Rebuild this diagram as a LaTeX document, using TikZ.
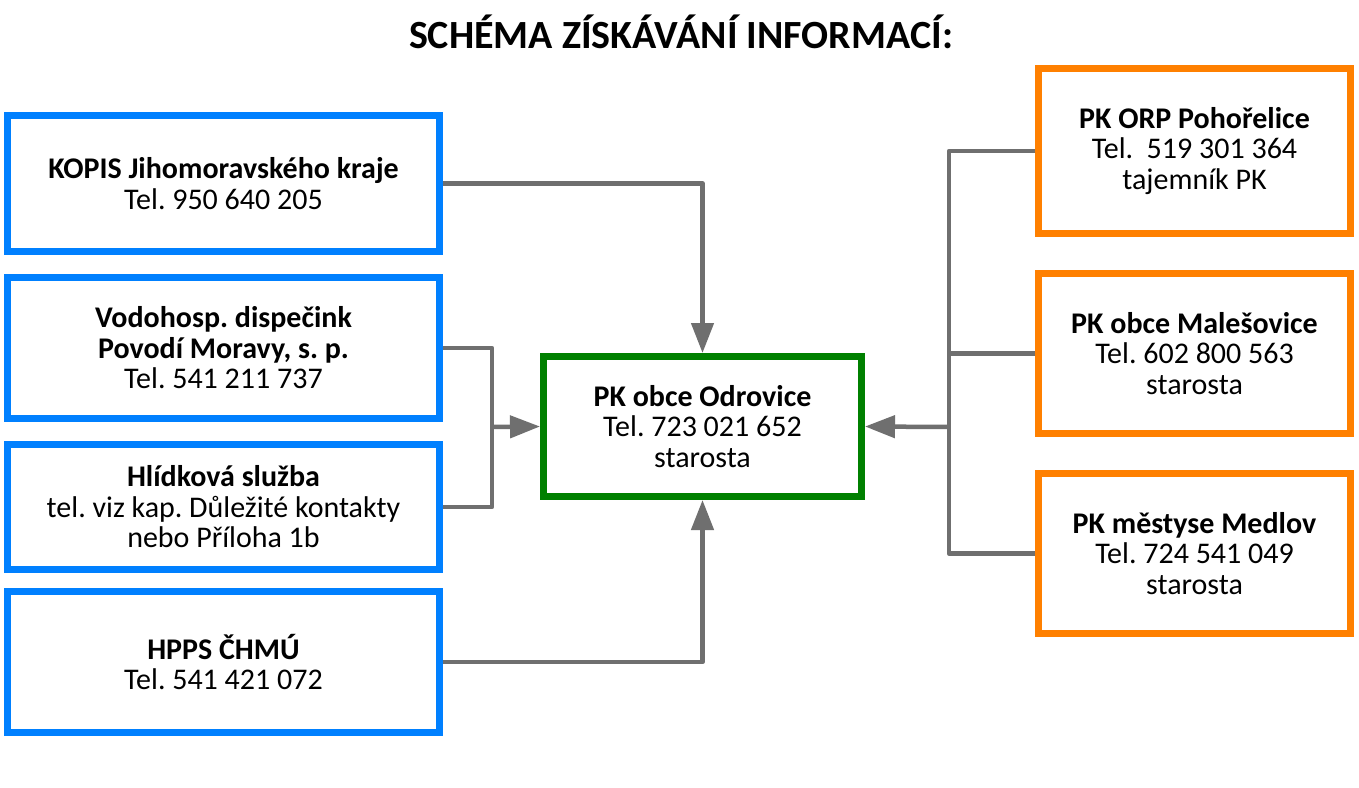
\documentclass[tikz,border=0pt]{standalone}
\usepackage{fontspec}
\setmainfont{Carlito}
\usetikzlibrary{arrows.meta}
\definecolor{cblue}{RGB}{0,128,255}
\definecolor{cgreen}{RGB}{0,128,0}
\definecolor{corange}{RGB}{255,128,0}
\definecolor{cgray}{RGB}{111,111,111}
\frenchspacing
\begin{document}
\begin{tikzpicture}[x=1pt,y=-1pt,
  box/.style={draw, line width=7pt, fill=white, align=center, inner sep=0pt,
    font=\fontsize{30}{30.5}\selectfont},
  bluebox/.style={box, draw=cblue, minimum width=432pt},
  orangebox/.style={box, draw=corange, minimum width=312pt},
  greenbox/.style={box, draw=cgreen, minimum width=318pt, minimum height=140pt},
  conn/.style={draw=cgray, line width=4.5pt, line join=round},
  arr/.style={conn, -{Triangle[length=30pt,width=22pt]}}]
\useasboundingbox (0,0) rectangle (1359,787);
\fill[white] (0,0) rectangle (1359,787);
\node[anchor=base, font=\fontsize{40}{42}\selectfont\bfseries] (title) at (681,48) {SCHÉMA ZÍSKÁVÁNÍ INFORMACÍ:};
\node[bluebox, minimum height=136pt] (kopis) at (223.5,183.5) {\textbf{KOPIS Jihomoravského kraje}\\Tel. 950 640 205};
\node[bluebox, minimum height=141pt] (vodo) at (223.5,348) {\textbf{Vodohosp. dispečink}\\\textbf{Povodí Moravy, s. p.}\\Tel. 541 211 737};
\node[bluebox, minimum height=125pt] (hlid) at (223.5,507) {\textbf{Hlídková služba}\\tel. viz kap. Důležité kontakty\\nebo Příloha 1b};
\node[bluebox, minimum height=141pt] (hpps) at (223.5,662) {\textbf{HPPS ČHMÚ}\\Tel. 541 421 072};
\node[greenbox] (green) at (702.5,426.5) {\textbf{PK obce Odrovice}\\Tel. 723 021 652\\starosta};
\node[orangebox, minimum height=165pt] (orp) at (1194.5,151) {\textbf{PK ORP Pohořelice}\\Tel.\ \ 519 301 364\\tajemník PK};
\node[orangebox, minimum height=160pt] (male) at (1194.5,353.5) {\textbf{PK obce Malešovice}\\Tel. 602 800 563\\starosta};
\node[orangebox, minimum height=160pt] (medl) at (1194.5,553.5) {\textbf{PK městyse Medlov}\\Tel. 724 541 049\\starosta};
\coordinate (jL) at (492,427);
\coordinate (jR) at (949,427);
\draw[arr] (kopis.east) -| (green.north);
\draw[arr] (hpps.east) -| (green.south);
\draw[conn] (vodo.east) -| (jL) |- (hlid.east);
\draw[arr] (jL) -- (green.west);
\draw[conn] (orp.west) -| (jR) |- (medl.west);
\draw[conn] (male.west) -- (male.west -| jR);
\draw[arr] (jR) -- (green.east);
\end{tikzpicture}
\end{document}
